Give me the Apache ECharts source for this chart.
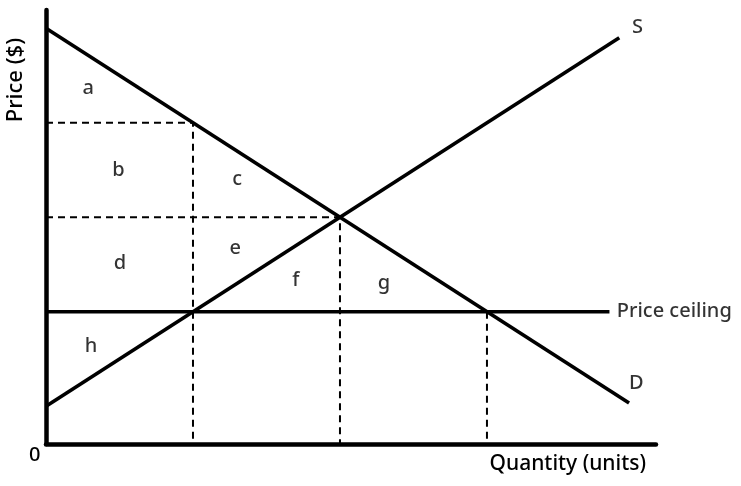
<!DOCTYPE html>
<html>
<head>
<meta charset="utf-8">
<script src="https://cdn.jsdelivr.net/npm/echarts@6/dist/echarts.min.js"></script>
<style>
  html, body { margin: 0; padding: 0; background: #fff; }
  #chart { width: 741px; height: 486px; }
</style>
</head>
<body>
<div id="chart"></div>
<script>
// curves, in (quantity, price) units
var demand = [[0, 13.2], [11.9, 1.3]];
var supply = [[0, 1.2], [11.7, 12.9]];
var ceiling = [[0, 4.2], [11.5, 4.2]];
// dashed guide lines
var guideHigh = [[0, 10.2], [3, 10.2], [3, 0]];
var guideEq = [[0, 7.2], [6, 7.2], [6, 0]];
var guideShort = [[9, 4.2], [9, 0]];
// area letters
var areaNames = ['a', 'b', 'c', 'd', 'e', 'f', 'g', 'h'];
var areaPos = [[0.86, 11.3], [1.48, 8.7], [3.9, 8.4], [1.51, 5.75],
               [3.86, 6.22], [5.1, 5.2], [6.9, 5.1], [0.92, 3.1]];
// curve labels
var curveNames = ['S', 'D', 'Price ceiling'];
var curvePos = [[11.96, 13.24], [11.9, 1.94], [11.65, 4.2]];

var font = 'Noto Sans';

function lineSeries(data, dashed) {
  return {
    type: 'line',
    data: data,
    symbol: 'none',
    silent: true,
    animation: false,
    lineStyle: dashed
      ? { color: '#000', width: 2, type: [7, 5] }
      : { color: '#000', width: 3.6 }
  };
}

var labelData = areaNames.map(function (n, i) {
  return { name: n, value: areaPos[i] };
});
var curveLabelData = curveNames.map(function (n, i) {
  return { name: n, value: curvePos[i] };
});

var option = {
  animation: false,
  grid: { left: 46, right: 85, top: 10, bottom: 42 },
  xAxis: {
    type: 'value',
    min: 0,
    max: 12.45,
    axisLine: { show: true, lineStyle: { color: '#000', width: 4.5 } },
    axisTick: { show: false },
    axisLabel: { show: false },
    splitLine: { show: false },
    name: 'Quantity (units)',
    nameLocation: 'end',
    nameGap: 0,
    nameTextStyle: {
      color: '#000', fontFamily: font, fontSize: 21, fontWeight: 500,
      align: 'right', verticalAlign: 'top', padding: [10, 10, 0, 0]
    }
  },
  yAxis: {
    type: 'value',
    min: 0,
    max: 13.78,
    axisLine: { show: true, lineStyle: { color: '#000', width: 4.5 } },
    axisTick: { show: false },
    axisLabel: { show: false },
    splitLine: { show: false }
  },
  graphic: [
    {
      type: 'text',
      left: 5,
      top: 38,
      rotation: Math.PI / 2,
      style: { text: 'Price ($)', fill: '#000', font: '500 22px "Noto Sans"' }
    },
    {
      type: 'text',
      left: 29,
      top: 445,
      style: { text: '0', fill: '#000', font: '500 20px "Noto Sans"' }
    }
  ],
  series: [
    lineSeries(guideHigh, true),
    lineSeries(guideEq, true),
    lineSeries(guideShort, true),
    lineSeries(demand, false),
    lineSeries(supply, false),
    lineSeries(ceiling, false),
    {
      type: 'scatter',
      data: labelData,
      symbolSize: 0,
      silent: true,
      label: {
        show: true,
        position: 'inside',
        formatter: '{b}',
        color: '#000',
        fontFamily: font,
        fontWeight: 500,
        fontSize: 20
      }
    },
    {
      type: 'scatter',
      data: curveLabelData,
      symbolSize: 0,
      silent: true,
      clip: false,
      label: {
        show: true,
        position: 'right',
        distance: 0,
        formatter: '{b}',
        color: '#000',
        fontFamily: font,
        fontWeight: 500,
        fontSize: 20
      }
    }
  ]
};

echarts.init(document.getElementById('chart')).setOption(option);
</script>
</body>
</html>
